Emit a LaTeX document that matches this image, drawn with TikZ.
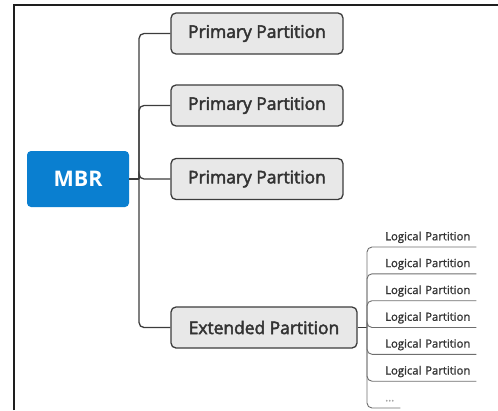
\documentclass[tikz,border=0pt]{standalone}
\usepackage{fontspec}
\setmainfont{Open Sans}
\newfontfamily\semib{Open Sans}[FakeBold=2.6]
\newfontfamily\medf{Open Sans}[FakeBold=1.2]
\definecolor{mbrblue}{RGB}{10,127,208}
\definecolor{boxfill}{RGB}{232,232,232}
\definecolor{linec}{RGB}{60,60,60}
\definecolor{textc}{RGB}{51,51,51}
\definecolor{lpline}{RGB}{110,110,110}
\definecolor{framec}{RGB}{30,30,30}
\begin{document}
\begin{tikzpicture}[x=1pt,y=-1pt,
  box/.style={draw=linec, fill=boxfill, line width=1.3pt, rounded corners=5pt,
    minimum height=41pt, inner sep=0pt, text=textc,
    font=\semib\fontsize{17.4}{19}\selectfont},
  mbrbox/.style={fill=mbrblue, rounded corners=4pt, minimum width=102pt,
    minimum height=56pt, inner sep=0pt, text=white,
    font=\bfseries\fontsize{21.5}{24}\selectfont},
  lpnode/.style={anchor=south west, inner xsep=0pt, inner ysep=4pt,
    text height=8pt, text depth=2.5pt, align=left, text=textc,
    font=\medf\fontsize{11.3}{12}\selectfont},
  conn/.style={draw=linec, line width=1.3pt},
  lpconn/.style={draw=lpline, line width=0.9pt, rounded corners=5pt}]
\useasboundingbox (0,0) rectangle (498,410);
\draw[framec, line width=1.5pt] (14,410) -- (14,5) -- (498,5);

\node[mbrbox] (mbr) at (78,179) {MBR};
\node[box, minimum width=172pt] (p1) at (257,33.5) {Primary Partition};
\node[box, minimum width=172pt] (p2) at (257,105.5) {Primary Partition};
\node[box, minimum width=172pt] (p3) at (257,179) {Primary Partition};
\node[box, minimum width=186pt] (ext) at (264,327.5) {Extended Partition};

\coordinate (jm) at (139,179);
\draw[conn] (mbr.east) -- (jm);
\foreach \n in {p1,p2,p3,ext}
  \draw[conn, rounded corners=5pt] (jm) |- (\n.west);

\coordinate (jl) at (367,327.5);
\draw[conn] (ext.east) -- (jl);

\foreach \i/\y in {1/247,2/273.8,3/300.7,4/327.5,5/354.3,6/381.2} {
  \node[lpnode, text width=91pt] (lp\i) at (385,\y) {\mbox{Logical Partition}};
  \draw[lpconn] (jl) |- (lp\i.south west) -- (lp\i.south east);
}
\node[lpnode, text width=15pt, text=gray!70] (lp7) at (385,408) {...};
\draw[lpconn] (jl) |- (lp7.south west) -- (lp7.south east);
\end{tikzpicture}
\end{document}
